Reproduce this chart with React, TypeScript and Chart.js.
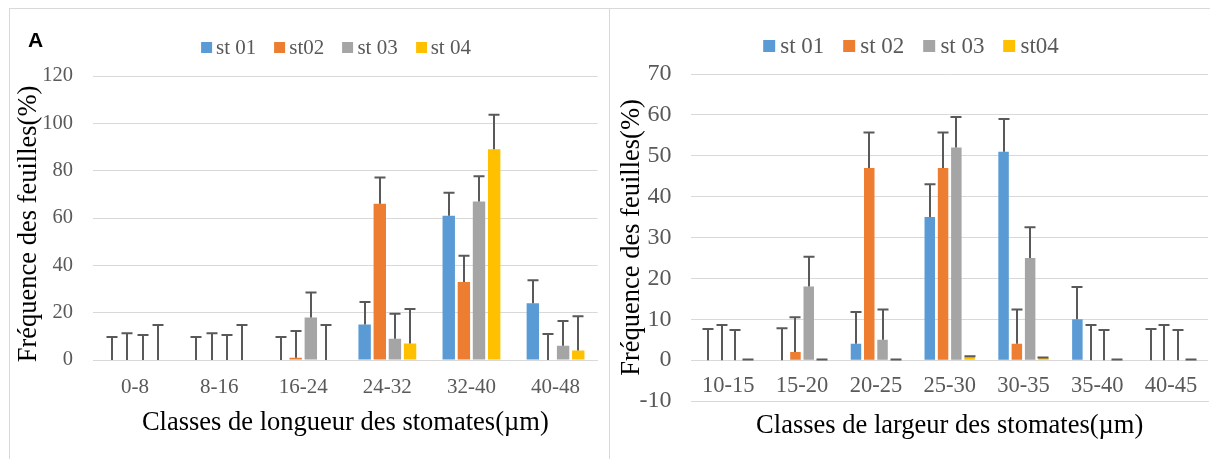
import React, { useEffect, useRef } from 'react';
import { Chart, registerables } from 'chart.js';

Chart.register(...registerables);

// ---------- data ----------
const seriesLeft = ['st 01', 'st02', 'st 03', 'st 04'];
const seriesRight = ['st 01', 'st 02', 'st 03', 'st04'];
const seriesColors = ['#5B9BD5', '#ED7D31', '#A5A5A5', '#FFC000'];

const lengthClasses = ['0-8', '8-16', '16-24', '24-32', '32-40', '40-48'];
const lenSt01 = [0, 0, 0, 15, 61, 24];
const lenSt02 = [0, 0, 1, 66, 33, 0];
const lenSt03 = [0, 0, 18, 9, 67, 6];
const lenSt04 = [0, 0, 0, 7, 89, 4];
const lenErr01 = [9.7, 9.7, 9.7, 9.5, 9.7, 9.7];
const lenErr02 = [11.3, 11.3, 11.3, 11.1, 11.1, 11.0];
const lenErr03 = [10.6, 10.6, 10.5, 10.5, 10.6, 10.5];
const lenErr04 = [14.8, 14.8, 14.8, 14.5, 14.6, 14.5];
const lenTicks = { min: 0, max: 120, step: 20 };

const widthClasses = ['10-15', '15-20', '20-25', '25-30', '30-35', '35-40', '40-45'];
const widSt01 = [0, 0, 4, 35, 51, 10, 0];
const widSt02 = [0, 2, 47, 47, 4, 0, 0];
const widSt03 = [0, 18, 5, 52, 25, 0, 0];
const widSt04 = [0, 0, 0, 0.8, 0.5, 0, 0];
const widErr01 = [7.6, 7.8, 7.8, 8.0, 8.0, 7.9, 7.6];
const widErr02 = [8.6, 8.5, 8.7, 8.7, 8.4, 8.6, 8.6];
const widErr03 = [7.4, 7.3, 7.4, 7.5, 7.5, 7.4, 7.4];
const widErr04 = [0.15, 0.15, 0.15, 0.15, 0.15, 0.15, 0.15];
const widTicks = { min: -10, max: 70, step: 10 };

const leftTitleX = 'Classes de longueur des stomates(µm)';
const rightTitleX = 'Classes de largeur des stomates(µm)';
const titleY = 'Fréquence des feuilles(%)';

// ---------- plugins ----------
const errorBarPlugin = {
  id: 'errorBars',
  afterDatasetsDraw(chart: any, _args: any, opts: any) {
    const ctx = chart.ctx;
    const yScale = chart.scales.y;
    chart.data.datasets.forEach((ds: any, di: number) => {
      const errs = ds.errors;
      if (!errs) return;
      const meta = chart.getDatasetMeta(di);
      meta.data.forEach((bar: any, i: number) => {
        const v = ds.data[i];
        const yv = yScale.getPixelForValue(v);
        const yt = yScale.getPixelForValue(v + errs[i]);
        const x = Math.round(bar.x);
        ctx.save();
        ctx.strokeStyle = opts.color;
        ctx.lineWidth = opts.lineWidth;
        ctx.beginPath();
        ctx.moveTo(x, yv);
        ctx.lineTo(x, yt);
        ctx.moveTo(x - opts.cap / 2, yt);
        ctx.lineTo(x + opts.cap / 2, yt);
        ctx.stroke();
        ctx.restore();
      });
    });
  },
};

const yTitlePlugin = {
  id: 'yTitle',
  afterDraw(chart: any, _args: any, opts: any) {
    const ctx = chart.ctx;
    ctx.save();
    ctx.translate(opts.x, opts.y);
    ctx.rotate(-Math.PI / 2);
    ctx.font = opts.font;
    ctx.fillStyle = opts.color;
    ctx.textAlign = 'center';
    ctx.textBaseline = 'middle';
    ctx.fillText(opts.text, 0, 0);
    ctx.restore();
  },
};

const SERIF = '"Liberation Serif", "Times New Roman", serif';
const TICK_COLOR = '#595959';
const GRID_COLOR = '#D9D9D9';

function buildConfig(p: {
  labels: string[];
  names: string[];
  values: number[][];
  errors: number[][];
  range: { min: number; max: number; step: number };
  xTitle: string;
  yAxisWidth: number;
  xAxisHeight: number;
  padTop: number;
  padRight: number;
  tickPad: number;
  mirrorX: boolean;
  xTickSize: number;
  yTickSize: number;
  titlePadBottom: number;
  catPct: number;
  barPct: number;
  yTitlePos: { x: number; y: number };
}): any {
  return {
    type: 'bar',
    data: {
      labels: p.labels,
      datasets: p.names.map((n, i) => ({
        label: n,
        data: p.values[i],
        errors: p.errors[i],
        backgroundColor: seriesColors[i],
        borderWidth: 0,
        categoryPercentage: p.catPct,
        barPercentage: p.barPct,
      })),
    },
    options: {
      animation: false,
      responsive: false,
      maintainAspectRatio: false,
      layout: { padding: { left: 0, right: p.padRight, top: p.padTop, bottom: 0 } },
      plugins: {
        legend: { display: false },
        tooltip: { enabled: false },
        errorBars: { color: '#595959', lineWidth: 2, cap: 11 },
        yTitle: {
          text: titleY,
          x: p.yTitlePos.x,
          y: p.yTitlePos.y,
          font: `26.5px ${SERIF}`,
          color: '#000000',
        },
      },
      scales: {
        x: {
          grid: { display: false, drawTicks: false },
          border: { display: true, color: GRID_COLOR, width: 1 },
          ticks: {
            color: TICK_COLOR,
            font: { family: SERIF, size: p.xTickSize },
            padding: p.tickPad,
            mirror: p.mirrorX,
            autoSkip: false,
            maxRotation: 0,
            minRotation: 0,
          },
          title: {
            display: true,
            text: p.xTitle,
            color: '#000000',
            font: { family: SERIF, size: 26.5 },
            padding: { top: 0, bottom: p.titlePadBottom },
          },
          afterFit: (s: any) => {
            s.height = p.xAxisHeight;
          },
        },
        y: {
          min: p.range.min,
          max: p.range.max,
          grid: { color: GRID_COLOR, lineWidth: 1, drawTicks: false },
          border: { display: false },
          ticks: {
            stepSize: p.range.step,
            color: TICK_COLOR,
            font: { family: SERIF, size: p.yTickSize },
            padding: 20,
          },
          afterFit: (s: any) => {
            s.width = p.yAxisWidth;
          },
        },
      },
    },
    plugins: [errorBarPlugin, yTitlePlugin],
  };
}

function Legend({ names, center, top, gap, boxGap, size, box }: { names: string[]; center: number; top: number; gap: number; boxGap: number; size: number; box: number }) {
  return (
    <div
      style={{
        position: 'absolute',
        left: center,
        top,
        transform: 'translateX(-50%)',
        display: 'flex',
        alignItems: 'center',
        gap,
        whiteSpace: 'nowrap',
        fontFamily: SERIF,
        fontSize: size,
        lineHeight: `${size}px`,
        color: TICK_COLOR,
      }}
    >
      {names.map((n, i) => (
        <div key={n} style={{ display: 'flex', alignItems: 'center' }}>
          <span style={{ display: 'inline-block', width: box, height: box, background: seriesColors[i], marginRight: boxGap }} />
          <span>{n}</span>
        </div>
      ))}
    </div>
  );
}

export default function App() {
  const leftRef = useRef<HTMLCanvasElement>(null);
  const rightRef = useRef<HTMLCanvasElement>(null);

  useEffect(() => {
    const left = new Chart(
      leftRef.current as HTMLCanvasElement,
      buildConfig({
        labels: lengthClasses,
        names: seriesLeft,
        values: [lenSt01, lenSt02, lenSt03, lenSt04],
        errors: [lenErr01, lenErr02, lenErr03, lenErr04],
        range: lenTicks,
        xTitle: leftTitleX,
        yAxisWidth: 83,
        xAxisHeight: 99,
        padTop: 67,
        padRight: 12.4,
        tickPad: 15,
        mirrorX: false,
        xTickSize: 21,
        yTickSize: 20.5,
        titlePadBottom: 20,
        catPct: 0.72,
        barPct: 0.82,
        yTitlePos: { x: 18.6, y: 215 },
      })
    );
    const right = new Chart(
      rightRef.current as HTMLCanvasElement,
      buildConfig({
        labels: widthClasses,
        names: seriesRight,
        values: [widSt01, widSt02, widSt03, widSt04],
        errors: [widErr01, widErr02, widErr03, widErr04],
        range: widTicks,
        xTitle: rightTitleX,
        yAxisWidth: 79.4,
        xAxisHeight: 58,
        padTop: 65,
        padRight: 2,
        tickPad: 1.5,
        mirrorX: true,
        xTickSize: 22.5,
        yTickSize: 24,
        titlePadBottom: 17,
        catPct: 0.72,
        barPct: 0.79,
        yTitlePos: { x: 19.6, y: 228.5 },
      })
    );
    return () => {
      left.destroy();
      right.destroy();
    };
  }, []);

  return (
    <div style={{ position: 'absolute', left: 0, top: 0, width: 1210, height: 459, overflow: 'hidden', background: '#fff' }}>
      <div style={{ position: 'absolute', left: 9, top: 8, width: 601, height: 470, border: '1px solid #D9D9D9', boxSizing: 'border-box' }} />
      <div style={{ position: 'absolute', left: 609, top: 8, width: 640, height: 470, border: '1px solid #D9D9D9', boxSizing: 'border-box' }} />
      <canvas ref={leftRef} width={600} height={450} style={{ position: 'absolute', left: 10, top: 9, width: 600, height: 450 }} />
      <canvas ref={rightRef} width={598} height={450} style={{ position: 'absolute', left: 612, top: 9, width: 598, height: 450 }} />
      <div
        style={{
          position: 'absolute',
          left: 28,
          top: 29,
          fontFamily: '"Liberation Sans", Arial, sans-serif',
          fontWeight: 'bold',
          fontSize: 21,
          lineHeight: '21px',
          color: '#000',
        }}
      >
        A
      </div>
      <Legend names={seriesLeft} center={336} top={37} gap={18} boxGap={4} size={21} box={11} />
      <Legend names={seriesRight} center={911} top={34} gap={19} boxGap={5} size={23} box={12} />
    </div>
  );
}
